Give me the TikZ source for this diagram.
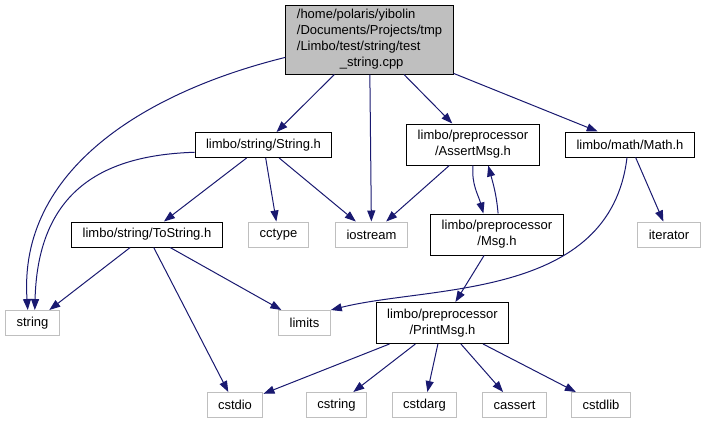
\documentclass[tikz,border=0pt]{standalone}
\usepackage{fontspec}
\setmainfont{Liberation Sans}
\usepackage{tikz}
\usetikzlibrary{arrows.meta}
\definecolor{edgeblue}{HTML}{191970}
\definecolor{boxgray}{HTML}{BFBFBF}

\begin{document}
\begin{tikzpicture}[x=1pt, y=1pt,
    filenode/.style={draw=black, line width=1pt, inner xsep=11pt, inner ysep=2pt,
                     minimum height=25pt, align=center,
                     font=\fontsize{13}{16}\selectfont},
    extnode/.style={filenode, draw=boxgray},
    incl/.style={draw=edgeblue, line width=1pt, -{Triangle[length=11pt, width=8pt]}}]

    % Page size
    \useasboundingbox (0,0) rectangle (707,-424);

    % Root file
    \node[filenode, fill=boxgray, minimum height=69pt, align=left] (root) at (369.5,-39.5)
        {/home/polaris/yibolin\\/Documents/Projects/tmp\\/Limbo/test/string/test\\\hspace*{43pt}\_string.cpp};

    % First row of headers
    \node[filenode] (strh) at (263.5,-145) {limbo/string/String.h};
    \node[filenode, minimum height=41pt] (assertmsg) at (473,-144.5) {limbo/preprocessor\\/AssertMsg.h};
    \node[filenode] (mathh) at (630,-144.5) {limbo/math/Math.h};

    % Second row
    \node[filenode] (tostring) at (147,-234.5) {limbo/string/ToString.h};
    \node[extnode] (cctype) at (278.5,-234.5) {cctype};
    \node[extnode] (iostream) at (371.5,-234.5) {iostream};
    \node[filenode, minimum height=41pt] (msg) at (497,-234.5) {limbo/preprocessor\\/Msg.h};
    \node[extnode] (iterator) at (669,-234.5) {iterator};

    % Third row
    \node[extnode] (string) at (32.5,-323) {string};
    \node[extnode] (limits) at (304.5,-323) {limits};
    \node[filenode, minimum height=41pt] (printmsg) at (442.5,-323) {limbo/preprocessor\\/PrintMsg.h};

    % Bottom row of system headers
    \node[extnode] (cstdio) at (235,-405) {cstdio};
    \node[extnode] (cstring) at (336.5,-405) {cstring};
    \node[extnode] (cstdarg) at (424.5,-405) {cstdarg};
    \node[extnode] (cassert) at (514.5,-405) {cassert};
    \node[extnode] (cstdlib) at (601,-405) {cstdlib};

    % Includes of the root file
    \draw[incl] (root.192) .. controls (145,-92) and (18,-170) .. (string.110);
    \draw[incl] (root) -- (strh);
    \draw[incl] (root) -- (iostream);
    \draw[incl] (root) -- (assertmsg);
    \draw[incl] (root) -- (mathh);

    % String.h
    \draw[incl] (strh.186) .. controls (110,-155) and (38,-185) .. (string.80);
    \draw[incl] (strh) -- (tostring);
    \draw[incl] (strh) -- (cctype);
    \draw[incl] (strh) -- (iostream);

    % AssertMsg.h and Msg.h include each other
    \draw[incl] (assertmsg) -- (iostream);
    \draw[incl] (assertmsg.south) to[out=-95, in=105] (msg.123);
    \draw[incl] (msg.87) to[out=95, in=-75] (assertmsg.-54);

    % Math.h
    \draw[incl] ([xshift=-3pt]mathh.south) .. controls (610,-300) and (430,-285) .. (limits.north east);
    \draw[incl] (mathh) -- (iterator);

    % ToString.h
    \draw[incl] (tostring) -- (string);
    \draw[incl] (tostring) -- (limits);
    \draw[incl] (tostring) -- (cstdio);

    % Msg.h and PrintMsg.h
    \draw[incl] (msg) -- (printmsg);
    \draw[incl] (printmsg) -- (cstdio);
    \draw[incl] (printmsg) -- (cstring);
    \draw[incl] (printmsg) -- (cstdarg);
    \draw[incl] (printmsg) -- (cassert);
    \draw[incl] (printmsg) -- (cstdlib);

\end{tikzpicture}
\end{document}
